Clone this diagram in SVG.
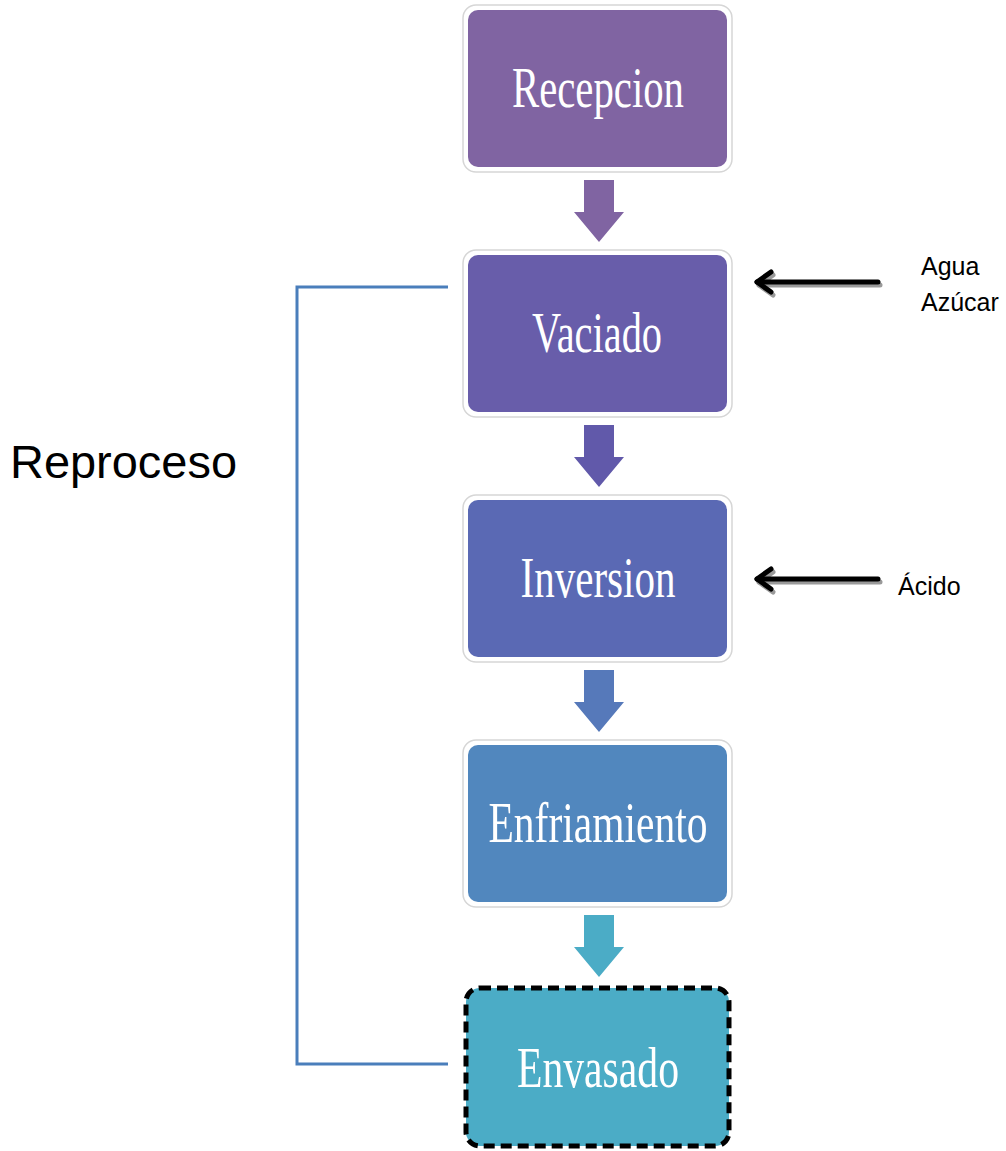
<svg xmlns="http://www.w3.org/2000/svg" width="1006" height="1151" viewBox="0 0 1006 1151">
<style>
.frame{fill:#ffffff;stroke:#d6d6d6;stroke-width:1.5}
.lbl{font-family:"Liberation Serif","Times New Roman",serif;font-size:56px;fill:#ffffff;text-anchor:middle}
.side{font-family:"Liberation Sans",Arial,sans-serif;font-size:25px;fill:#000000}
.blk{stroke:#000;stroke-width:5;fill:none;stroke-linecap:round;stroke-linejoin:round}
.shd{stroke:#9a9a9a;stroke-width:5;fill:none;stroke-linecap:round;stroke-linejoin:round}
</style>
<rect width="1006" height="1151" fill="#ffffff"/>
<g id="recepcion">
<rect class="frame" x="463" y="5" width="269" height="167" rx="13"/>
<rect x="468" y="10" width="259" height="157" rx="10" fill="#8064A2"/>
<text class="lbl" x="598" y="107" textLength="172" lengthAdjust="spacingAndGlyphs">Recepcion</text>
</g>
<g id="vaciado">
<rect class="frame" x="463" y="250" width="269" height="167" rx="13"/>
<rect x="468" y="255" width="259" height="157" rx="10" fill="#685DAA"/>
<text class="lbl" x="597" y="352" textLength="130" lengthAdjust="spacingAndGlyphs">Vaciado</text>
</g>
<g id="inversion">
<rect class="frame" x="463" y="495" width="269" height="167" rx="13"/>
<rect x="468" y="500" width="259" height="157" rx="10" fill="#5A69B4"/>
<text class="lbl" x="598" y="597" textLength="155" lengthAdjust="spacingAndGlyphs">Inversion</text>
</g>
<g id="enfriamiento">
<rect class="frame" x="463" y="740" width="269" height="167" rx="13"/>
<rect x="468" y="745" width="259" height="157" rx="10" fill="#5187BE"/>
<text class="lbl" x="598" y="842" textLength="219" lengthAdjust="spacingAndGlyphs">Enfriamiento</text>
</g>
<g id="envasado">
<rect x="466" y="988" width="263" height="158" rx="14" fill="#4BACC6" stroke="#000" stroke-width="5" stroke-dasharray="11 6"/>
<text class="lbl" x="598" y="1087" textLength="162" lengthAdjust="spacingAndGlyphs">Envasado</text>
</g>
<g id="reproceso-label">
<text x="10" y="478" font-family="'Liberation Sans',Arial,sans-serif" font-size="46" fill="#000" textLength="227" lengthAdjust="spacingAndGlyphs">Reproceso</text>
</g>
<g id="inputs">
<text class="side" x="921" y="275">Agua</text>
<text class="side" x="921" y="311">Azúcar</text>
<text class="side" x="898" y="595">Ácido</text>
</g>
<g id="connectors">
<polygon points="584,180 614,180 614,212 624,212 599,242 574,212 584,212" fill="#8064A2"/>
<polygon points="584,425 614,425 614,457 624,457 599,487 574,457 584,457" fill="#6159AA"/>
<polygon points="584,670 614,670 614,702 624,702 599,732 574,702 584,702" fill="#5679BA"/>
<polygon points="584,915 614,915 614,947 624,947 599,977 574,947 584,947" fill="#4BACC6"/>
<polyline points="448,287 297,287 297,1064 448,1064" fill="none" stroke="#4A7EBB" stroke-width="3"/>
<g transform="translate(2,3)">
<line class="shd" x1="878" y1="282" x2="757" y2="282"/>
<polyline class="shd" points="771,272 757,282 771,292"/>
<line class="shd" x1="878" y1="579" x2="757" y2="579"/>
<polyline class="shd" points="771,569 757,579 771,589"/>
</g>
<line class="blk" x1="878" y1="282" x2="757" y2="282"/>
<polyline class="blk" points="771,272 757,282 771,292"/>
<line class="blk" x1="878" y1="579" x2="757" y2="579"/>
<polyline class="blk" points="771,569 757,579 771,589"/>
</g>
</svg>
